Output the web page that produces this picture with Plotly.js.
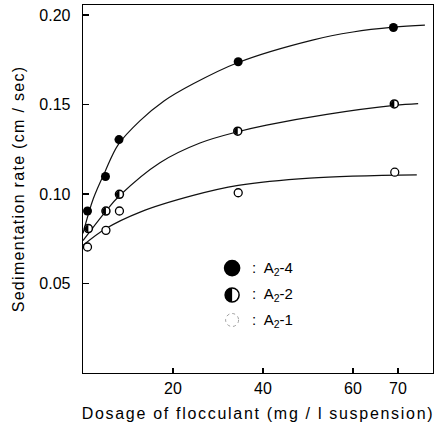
<!DOCTYPE html>
<html>
<head>
<meta charset="utf-8">
<script src="https://cdn.plot.ly/plotly-3.0.1.min.js"></script>
<style>
html,body{margin:0;padding:0;background:#fff;}
#chart{width:441px;height:434px;}
#chart .xtitle{letter-spacing:1.7px;}
#chart .ytitle{letter-spacing:1.3px;}
</style>
</head>
<body>
<div id="chart"></div>
<script>
// Measured points
const a4_x = [1, 5, 8, 34.5, 69];
const a4_y = [0.0905, 0.1098, 0.1304, 0.1739, 0.193];
const a2_x = [1.2, 5.1, 8.1, 34.4, 69.2];
const a2_y = [0.0807, 0.0905, 0.0998, 0.1351, 0.1503];
const a1_x = [1, 5.1, 8.1, 34.5, 69.3];
const a1_y = [0.0704, 0.0797, 0.0905, 0.1007, 0.1122];

// Fitted curves
const c4_x = [0, 2.3, 4.9, 7.8, 12.7, 18, 24.5, 34.5, 51, 60, 69, 76];
const c4_y = [0.078, 0.0975, 0.1125, 0.1275, 0.141, 0.152, 0.1616, 0.1735, 0.186, 0.1905, 0.1932, 0.1944];
const c2_x = [0, 5.1, 8.1, 17.1, 26, 34.4, 40.8, 54.2, 69.2, 74.5];
const c2_y = [0.074, 0.0905, 0.099, 0.1175, 0.1285, 0.1348, 0.1385, 0.1445, 0.1495, 0.1505];
const c1_x = [0, 5.1, 12.7, 24.5, 34.5, 50.4, 74.2];
const c1_y = [0.0713, 0.0807, 0.0899, 0.0992, 0.1048, 0.1089, 0.1107];

const xTicks = [20, 40, 60, 70];
const yTicks = [0.05, 0.10, 0.15, 0.20];
const yTickText = ['0.05', '0.10', '0.15', '0.20'];
const legendLabels = ['A<sub>2</sub>-4', 'A<sub>2</sub>-2', 'A<sub>2</sub>-1'];

const FONT = 'Liberation Sans, Arial, sans-serif';
const lineStyle = {color: '#111', width: 1.2, shape: 'spline', smoothing: 1};

const traces = [
  {x: c4_x, y: c4_y, mode: 'lines', line: lineStyle, hoverinfo: 'skip'},
  {x: c2_x, y: c2_y, mode: 'lines', line: lineStyle, hoverinfo: 'skip'},
  {x: c1_x, y: c1_y, mode: 'lines', line: lineStyle, hoverinfo: 'skip'},
  {x: a4_x, y: a4_y, mode: 'markers', marker: {symbol: 'circle', size: 9, color: '#000'}},
  {x: a2_x, y: a2_y, mode: 'markers', marker: {symbol: 'circle', size: 8, color: '#fff', line: {color: '#000', width: 1.5}}},
  {x: a1_x, y: a1_y, mode: 'markers', marker: {symbol: 'circle', size: 8, color: '#fff', line: {color: '#000', width: 1.3}}}
];

function leftHalf(r) {
  const k = 0.5523 * r;
  return `M 0,${r} C ${-k},${r} ${-r},${k} ${-r},0 C ${-r},${-k} ${-k},${-r} 0,${-r} Z`;
}

const shapes = [];
// left-half fill for the half-filled series, anchored at its data values
a2_x.forEach((xv, i) => {
  shapes.push({type: 'path', xref: 'x', yref: 'y', xsizemode: 'pixel', ysizemode: 'pixel',
    xanchor: xv, yanchor: a2_y[i], path: leftHalf(3.6), fillcolor: '#000', line: {width: 0}});
});

// legend symbols
const legX = 0.426;
const legY = [0.285, 0.212, 0.144];
function circ(yp, r, fill, lw, lc, dash) {
  return {type: 'circle', xref: 'paper', yref: 'paper', xsizemode: 'pixel', ysizemode: 'pixel',
    xanchor: legX, yanchor: yp, x0: -r, x1: r, y0: -r, y1: r,
    fillcolor: fill, line: {color: lc, width: lw, dash: dash || 'solid'}};
}
shapes.push(circ(legY[0], 8.3, '#000', 0, '#000'));
shapes.push(circ(legY[1], 7, '#fff', 1.5, '#000'));
shapes.push({type: 'path', xref: 'paper', yref: 'paper', xsizemode: 'pixel', ysizemode: 'pixel',
  xanchor: legX, yanchor: legY[1], path: leftHalf(7), fillcolor: '#000', line: {width: 0}});
shapes.push(circ(legY[2], 6.5, '#fff', 0.8, '#888', 'dot'));

const annotations = legendLabels.map((t, i) => ({
  xref: 'paper', yref: 'paper', x: legX + 0.05, y: legY[i], xanchor: 'left', yanchor: 'middle',
  text: ':  ' + t, showarrow: false, font: {family: FONT, size: 15, color: '#000'}
}));

const layout = {
  width: 441, height: 434,
  margin: {l: 83, r: 8, t: 5, b: 61},
  paper_bgcolor: '#fff', plot_bgcolor: '#fff',
  showlegend: false,
  font: {family: FONT, size: 15, color: '#000'},
  xaxis: {
    range: [0, 77.8], tickvals: xTicks, ticktext: xTicks.map(String),
    ticks: 'inside', ticklen: 5, tickcolor: '#000', tickwidth: 1.2,
    showline: true, linecolor: '#000', linewidth: 1.3, mirror: true,
    showgrid: false, zeroline: false,
    tickfont: {family: FONT, size: 16},
    title: {text: 'Dosage of flocculant (mg / l suspension)', font: {family: FONT, size: 16}, standoff: 12}
  },
  yaxis: {
    range: [0, 0.2056], tickvals: yTicks, ticktext: yTickText,
    ticks: 'inside', ticklen: 6, tickcolor: '#000', tickwidth: 1.2,
    showline: true, linecolor: '#000', linewidth: 1.3, mirror: true,
    showgrid: false, zeroline: false, ticklabelstandoff: 8,
    tickfont: {family: FONT, size: 16},
    title: {text: 'Sedimentation rate (cm / sec)', font: {family: FONT, size: 16}, standoff: 10}
  },
  shapes: shapes,
  annotations: annotations
};

Plotly.newPlot('chart', traces, layout, {staticPlot: true, displayModeBar: false});
</script>
</body>
</html>
